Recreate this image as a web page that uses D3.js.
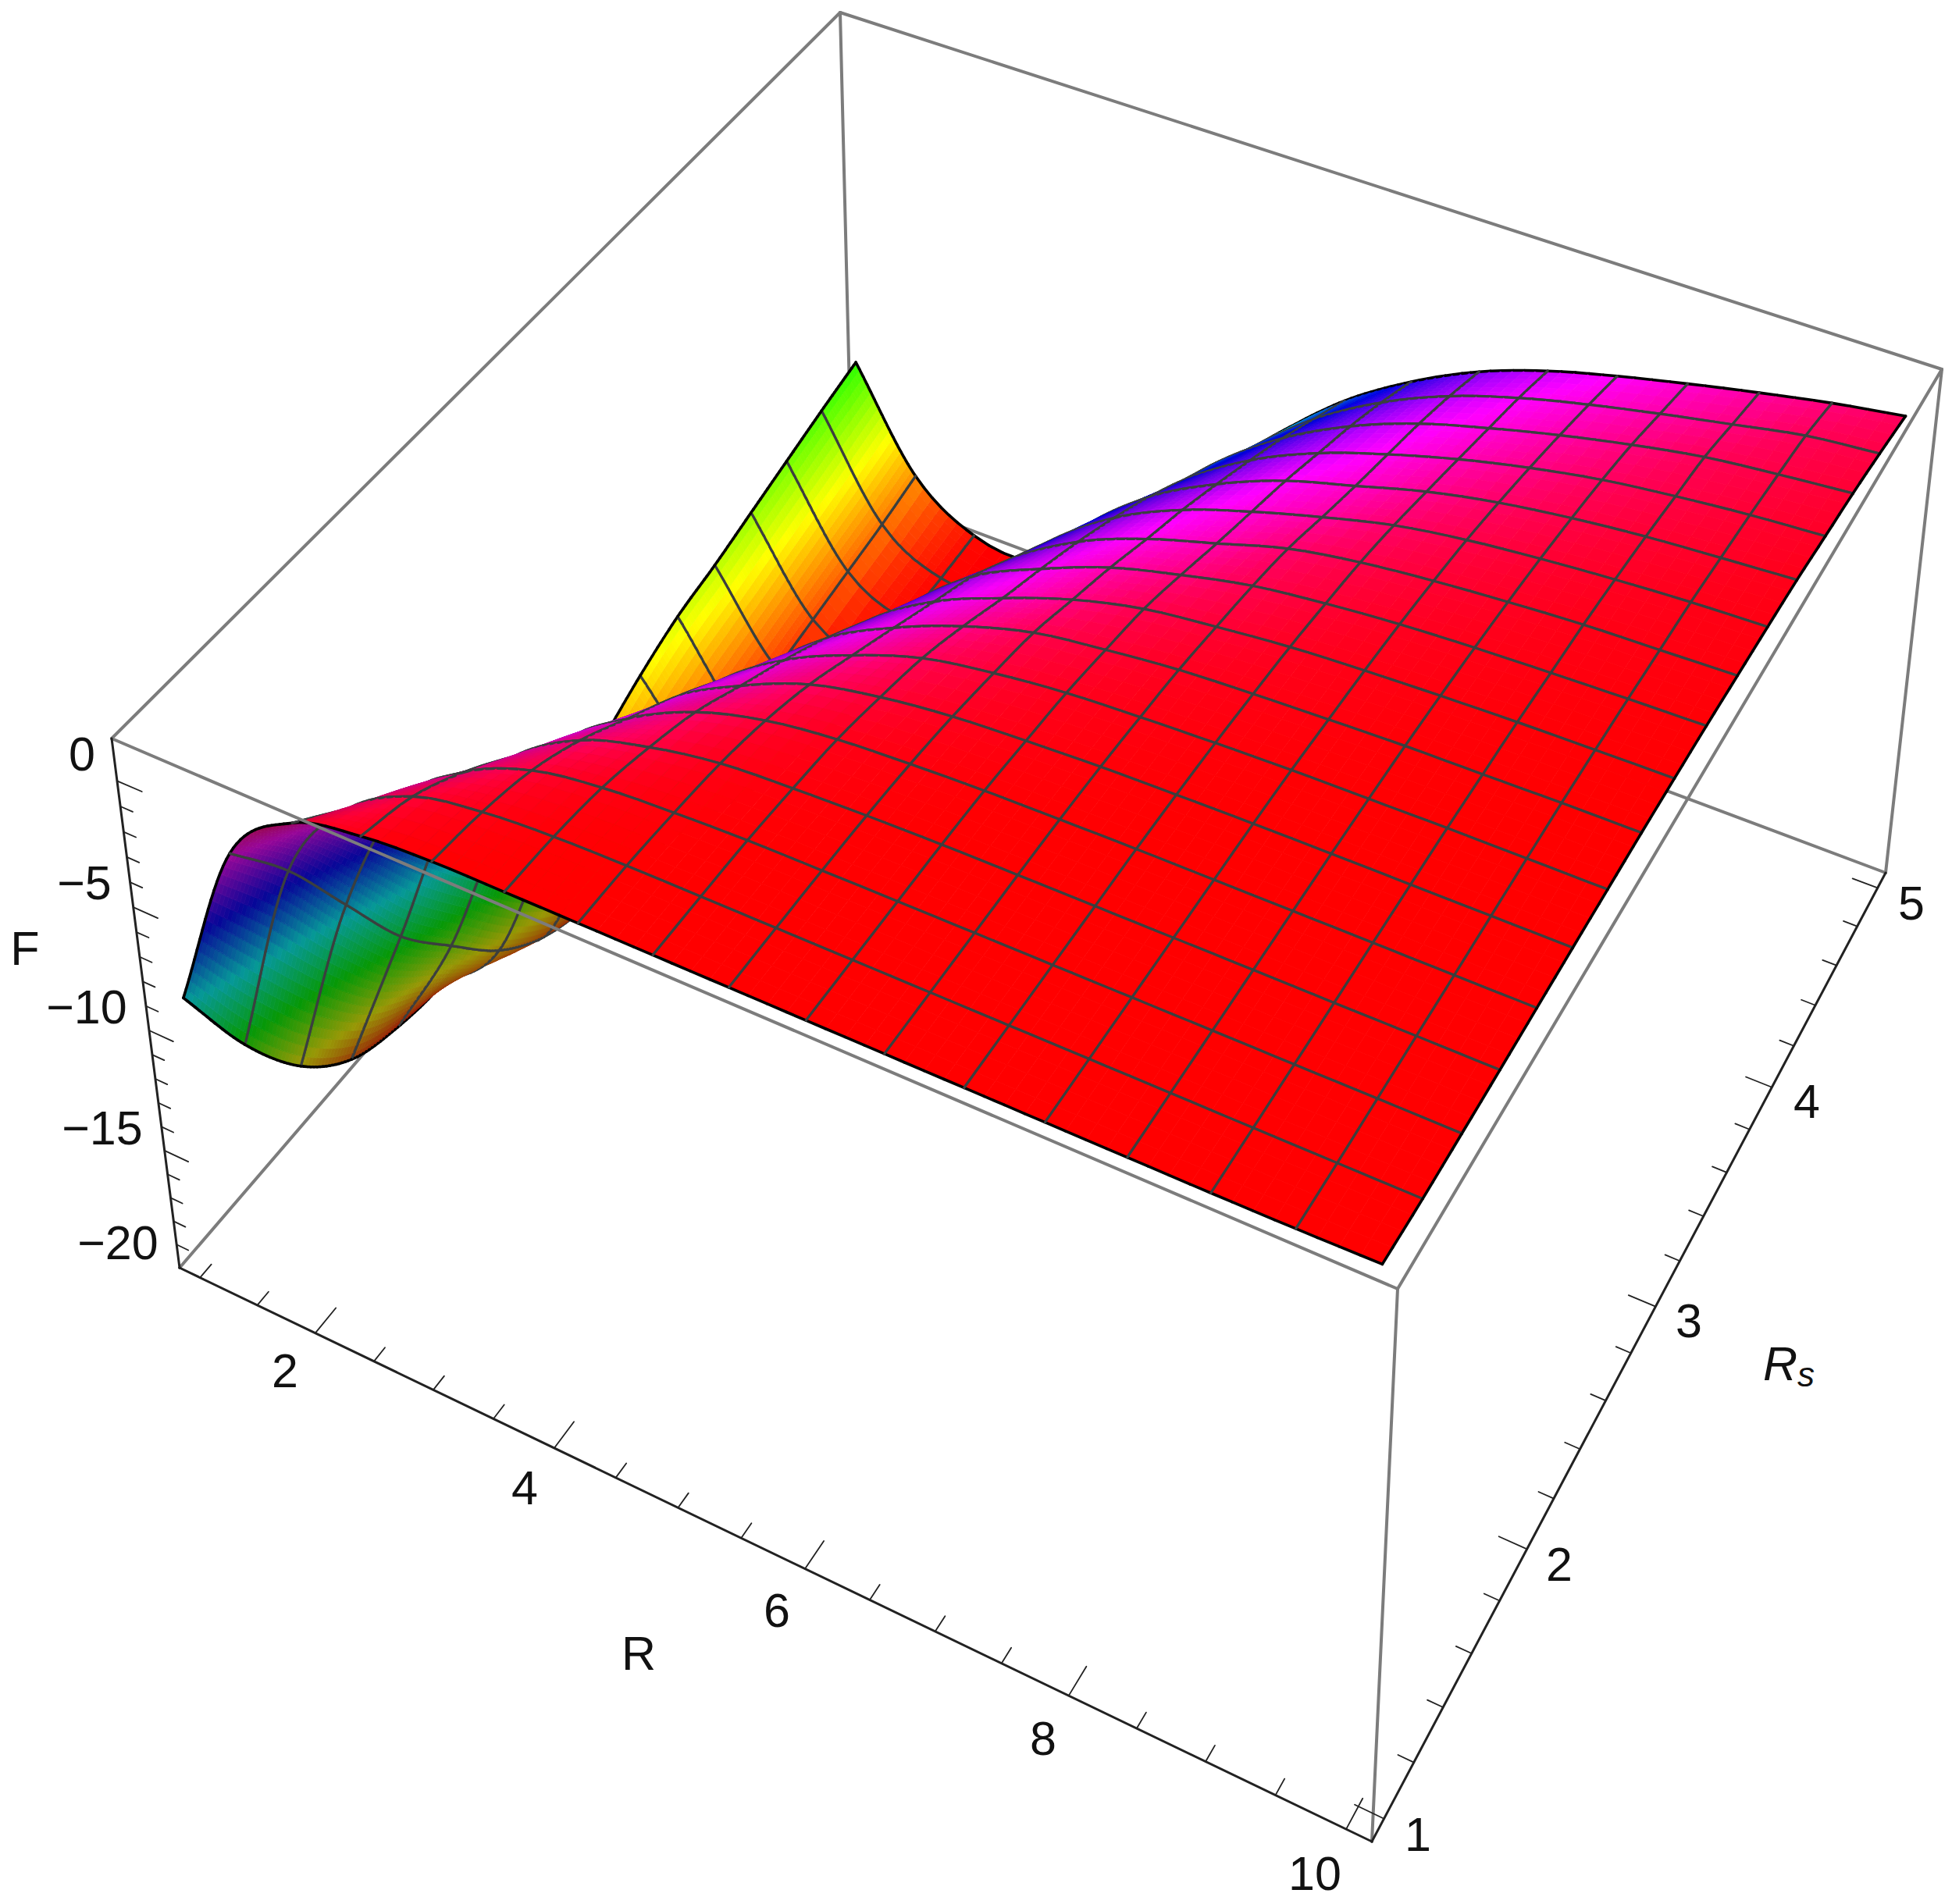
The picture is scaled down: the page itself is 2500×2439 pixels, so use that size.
<!DOCTYPE html>
<html><head><meta charset="utf-8">
<script src="https://cdn.jsdelivr.net/npm/d3@7"></script>
<style>html,body{margin:0;background:#fff}svg{display:block}text{font-family:"Liberation Sans",Arial,sans-serif;fill:#111}</style>
</head><body><div id="c"></div>
<script>
// ---------- data ----------
const rValues  = [1,1.5625,2.125,2.6875,3.25,3.8125,4.375,4.9375,5.5,6.0625,6.625,7.1875,7.75,8.3125,8.875,9.4375,10];
const rsValues = [1,1.25,1.5,1.75,2,2.25,2.5,2.75,3,3.25,3.5,3.75,4,4.25,4.5,4.75,5];
const F_Rs100 = [-9,-2.0,0.35,1.0,1.2,1.22,1.23,1.23,1.23,1.23,1.23,1.23,1.23,1.23,1.23,1.25,1.3];
const F_Rs125 = [-13.2,-4.85,-1.25,0.4,0.95,1.16,1.22,1.23,1.23,1.23,1.23,1.23,1.23,1.23,1.22,1.22,1.22];
const F_Rs150 = [-16.4,-8.4,-3.05,-0.75,0.45,0.92,1.1,1.2,1.22,1.23,1.23,1.23,1.23,1.23,1.22,1.22,1.21];
const F_Rs175 = [-18.4,-11.9,-5.3,-2.2,-0.45,0.4,0.9,1.07,1.17,1.22,1.23,1.23,1.23,1.23,1.22,1.22,1.21];
const F_Rs200 = [-19.25,-14.5,-8,-3.75,-1.65,-0.28,0.5,0.88,1.05,1.16,1.2,1.23,1.23,1.23,1.23,1.22,1.22];
const F_Rs225 = [-19.6,-16.9,-10.6,-5.6,-2.85,-1.27,-0.12,0.48,0.83,1.0,1.12,1.18,1.22,1.23,1.23,1.23,1.23];
const F_Rs250 = [-19.3,-18.5,-12.85,-7.2,-4.2,-2.25,-0.97,0,0.5,0.82,0.98,1.09,1.17,1.2,1.23,1.23,1.23];
const F_Rs275 = [-18.6,-19.3,-14.7,-9.85,-5.8,-3.35,-1.85,-0.72,0.1,0.5,0.8,0.95,1.06,1.15,1.18,1.22,1.23];
const F_Rs300 = [-18,-19.5,-16.5,-11.8,-7.55,-4.6,-2.75,-1.55,-0.55,0.14,0.5,0.78,0.94,1.05,1.13,1.17,1.2];
const F_Rs325 = [-17.2,-19.5,-17.9,-13.4,-9.3,-5.95,-3.65,-2.3,-1.2,-0.45,0.17,0.52,0.77,0.92,1.02,1.1,1.16];
const F_Rs350 = [-16.3,-19.4,-18.9,-14.9,-11,-7.4,-4.85,-3.1,-1.95,-1.1,-0.27,0.22,0.53,0.75,0.92,1.0,1.08];
const F_Rs375 = [-15.6,-19.2,-19.3,-16.2,-12.5,-8.95,-6.05,-4,-2.65,-1.7,-0.9,-0.2,0.24,0.53,0.75,0.91,1.0];
const F_Rs400 = [-15.2,-18.9,-19.55,-17.4,-13.7,-10.6,-7.3,-5,-3.45,-2.3,-1.5,-0.72,-0.15,0.25,0.54,0.73,0.9];
const F_Rs425 = [-14.7,-18.6,-19.6,-18.35,-14.9,-11.6,-8.7,-6.15,-4.3,-3,-2.05,-1.25,-0.6,-0.08,0.27,0.54,0.72];
const F_Rs450 = [-14.2,-18.3,-19.55,-19.05,-16.1,-12.9,-10,-7.25,-5.2,-3.7,-2.6,-1.8,-1.1,-0.5,0,0.3,0.55];
const F_Rs475 = [-13.7,-18,-19.5,-19.35,-17.1,-14,-11.2,-8.5,-6.2,-4.5,-3.25,-2.35,-1.65,-1.05,-0.5,0.03,0.3];
const F_Rs500 = [-13.25,-17.6,-19.4,-19.6,-18,-15,-12.3,-9.6,-7.2,-5.4,-4,-3,-2.25,-1.6,-1,-0.45,0];
const surface = [F_Rs100,F_Rs125,F_Rs150,F_Rs175,F_Rs200,F_Rs225,F_Rs250,F_Rs275,F_Rs300,F_Rs325,F_Rs350,F_Rs375,F_Rs400,F_Rs425,F_Rs450,F_Rs475,F_Rs500];

const rMajor = [2,4,6,8,10];
const rMinor = [1,1.5,2.5,3,3.5,4.5,5,5.5,6.5,7,7.5,8.5,9,9.5];
const rsMajor = [1,2,3,4,5];
const rsMinor = [1.2,1.4,1.6,1.8,2.2,2.4,2.6,2.8,3.2,3.4,3.6,3.8,4.2,4.4,4.6,4.8];
const fMajor = [0,-5,-10,-15,-20];
const fMinor = [-1,-2,-3,-4,-6,-7,-8,-9,-11,-12,-13,-14,-16,-17,-18,-19];
const rLabels  = [["2",365,1756],["4",672,1906],["6",995,2063],["8",1336,2227],["10",1684,2400]];
const rsLabels = [["1",1816,2350],["2",1997,2004],["3",2163,1692],["4",2314,1411],["5",2448,1157]];
const fLabels  = [["0",105,966],["\u22125",108,1131],["\u221210",111,1290],["\u221215",131,1445],["\u221220",151,1592]];

// ---------- scales and projection ----------
const W=2500,H=2439;
const uS=d3.scaleLinear().domain([0.82,10.18]).range([0,1]);
const vS=d3.scaleLinear().domain([0.92,5.08]).range([0,1]);
const fTop=1.65,fBot=-20;
const tS=d3.scaleLinear().domain([fTop,fBot]).range([0,1]);
const fMin=-19.6,fMax=1.23;
const hueS=d3.scaleLinear().domain([fMin,fMax]).range([0,360]).clamp(true);

function quadMap(q){
  const [x0,y0]=q[0],[x1,y1]=q[1],[x2,y2]=q[2],[x3,y3]=q[3];
  const dx1=x1-x2,dx2=x3-x2,sx=x0-x1+x2-x3,dy1=y1-y2,dy2=y3-y2,sy=y0-y1+y2-y3;
  const den=dx1*dy2-dx2*dy1,g=(sx*dy2-dx2*sy)/den,h=(dx1*sy-sx*dy1)/den;
  const a=x1-x0+g*x1,b=x3-x0+h*x3,d=y1-y0+g*y1,e=y3-y0+h*y3;
  return (u,v)=>{const w=g*u+h*v+1;return [(a*u+b*v+x0)/w,(d*u+e*v+y0)/w];};
}
const topMap=quadMap([[143,946],[1790,1651],[2487,473],[1076,16]]);
const botMap=quadMap([[230,1624],[1757,2359],[2415,1118],[1091,622]]);
const K=1.056;
function project(r,rs,f){
  const u=uS(r),v=vS(rs),t=tS(f),s=t*K/(1-t+t*K);
  const a=topMap(u,v),b=botMap(u,v);
  return [a[0]+(b[0]-a[0])*s,a[1]+(b[1]-a[1])*s];
}
const depth=(r,rs,f)=>0.71*uS(r)-1.06*vS(rs)+2.19*(1-tS(f));

const svg=d3.select("#c").append("svg").attr("width",W).attr("height",H).attr("viewBox",[0,0,W,H]);
const line=d3.line();
const GRAY="#7c7c7c";
function seg(g,p,q,col,w){g.append("path").attr("d",line([project(...p),project(...q)])).attr("fill","none").attr("stroke",col).attr("stroke-width",w).attr("stroke-linecap","round");}
const [rLo,rHi]=uS.domain(),[sLo,sHi]=vS.domain();

// back box edges (behind surface)
const back=svg.append("g");
seg(back,[rLo,sLo,fTop],[rLo,sHi,fTop],GRAY,4);
seg(back,[rLo,sHi,fTop],[rHi,sHi,fTop],GRAY,4);
seg(back,[rLo,sHi,fTop],[rLo,sHi,fBot],GRAY,4);
seg(back,[rLo,sLo,fBot],[rLo,sHi,fBot],GRAY,4);
seg(back,[rLo,sHi,fBot],[rHi,sHi,fBot],GRAY,4);

// surface: the table is read as a smooth sheet between its values
const items=[];
const nR=rValues.length,nS=rsValues.length;
const MESH="#3b3f3f",EDGE="#000";
function cr(p0,p1,p2,p3,t){return 0.5*(2*p1+(p2-p0)*t+(2*p0-5*p1+4*p2-p3)*t*t+(3*p1-p0-3*p2+p3)*t*t*t);}
function at(i,j){
  const ci=Math.max(0,Math.min(nR-1,i)),cj=Math.max(0,Math.min(nS-1,j));
  let v=surface[cj][ci];
  if(i<0)v+=surface[cj][0]-surface[cj][1]; else if(i>nR-1)v+=surface[cj][nR-1]-surface[cj][nR-2];
  if(j<0)v+=surface[0][ci]-surface[1][ci]; else if(j>nS-1)v+=surface[nS-1][ci]-surface[nS-2][ci];
  return v;
}
function P(i,j,ta,tb){
  const r=rValues[i]+(rValues[i+1]-rValues[i])*ta;
  const s=rsValues[j]+(rsValues[j+1]-rsValues[j])*tb;
  const col=[-1,0,1,2].map(d=>cr(at(i-1,j+d),at(i,j+d),at(i+1,j+d),at(i+2,j+d),ta));
  const f=cr(col[0],col[1],col[2],col[3],tb);
  return {r,s,f,xy:project(r,s,f)};
}
for(let j=0;j<nS-1;j++)for(let i=0;i<nR-1;i++){
  const vals=[surface[j][i],surface[j][i+1],surface[j+1][i],surface[j+1][i+1]];
  const SUB=Math.max(4,Math.min(16,Math.ceil((d3.max(vals)-d3.min(vals))/0.3)));
  const grid=d3.range(SUB+1).map(b=>d3.range(SUB+1).map(a=>P(i,j,a/SUB,b/SUB)));
  for(let b=0;b<SUB;b++)for(let a=0;a<SUB;a++){
    const A=grid[b][a],B=grid[b][a+1],C=grid[b+1][a+1],D=grid[b+1][a];
    const poly=[A.xy,B.xy,C.xy,D.xy];
    const area=d3.polygonArea(poly);
    const base=d3.polygonArea([project(A.r,A.s,0),project(B.r,B.s,0),project(C.r,C.s,0),project(D.r,D.s,0)]);
    const ratio=Math.abs(area/base);
    const fc=(A.f+B.f+C.f+D.f)/4,rc=(A.r+C.r)/2,sc=(A.s+C.s)/2;
    const top=area*base>0;
    const shade=top?0.78+0.22*Math.min(1,ratio/0.5):0.62;
    const col=d3.hsl(hueS(fc),top?1:0.92,0.5*shade).formatHex();
    const it={z:depth(rc,sc,fc),parts:[{d:line(poly)+"Z",fill:col,stroke:col,sw:0.8}]};
    const mk=(p,q,c,w)=>it.parts.push({d:line([p.xy,q.xy]),fill:"none",stroke:c,sw:w});
    if(b===0)mk(A,B,j===0?EDGE:MESH,j===0?3.6:3.2);
    if(b===SUB-1)mk(D,C,j===nS-2?EDGE:MESH,j===nS-2?3.6:3.2);
    if(a===0)mk(A,D,i===0?EDGE:MESH,i===0?3.6:3.2);
    if(a===SUB-1)mk(B,C,i===nR-2?EDGE:MESH,i===nR-2?3.6:3.2);
    items.push(it);
  }
}
items.sort((p,q)=>d3.ascending(p.z,q.z));
svg.append("g").selectAll("path").data(items.flatMap(d=>d.parts)).join("path")
  .attr("d",d=>d.d).attr("fill",d=>d.fill).attr("stroke",d=>d.stroke).attr("stroke-width",d=>d.sw).attr("stroke-linecap","round").attr("stroke-linejoin","round");

// front box edges
const front=svg.append("g");
seg(front,[rLo,sLo,fTop],[rHi,sLo,fTop],GRAY,4);
seg(front,[rHi,sLo,fTop],[rHi,sHi,fTop],GRAY,4);
seg(front,[rHi,sLo,fTop],[rHi,sLo,fBot],GRAY,4);
seg(front,[rHi,sHi,fTop],[rHi,sHi,fBot],GRAY,4);

// axes
const ax=svg.append("g"),AX="#222";
seg(ax,[rLo,sLo,fTop],[rLo,sLo,fBot],AX,3);
seg(ax,[rLo,sLo,fBot],[rHi,sLo,fBot],AX,3);
seg(ax,[rHi,sLo,fBot],[rHi,sHi,fBot],AX,3);
const dS=sHi-sLo,dR=rHi-rLo;
rMajor.forEach(r=>seg(ax,[r,sLo,fBot],[r,sLo+0.026*dS,fBot],AX,1.8));
rMinor.forEach(r=>seg(ax,[r,sLo,fBot],[r,sLo+0.014*dS,fBot],AX,1.8));
rsMajor.forEach(s=>seg(ax,[rHi,s,fBot],[rHi-0.022*dR,s,fBot],AX,1.8));
rsMinor.forEach(s=>seg(ax,[rHi,s,fBot],[rHi-0.012*dR,s,fBot],AX,1.8));
fMajor.forEach(f=>seg(ax,[rLo,sLo,f],[rLo+0.022*dR,sLo,f],AX,1.8));
fMinor.forEach(f=>seg(ax,[rLo,sLo,f],[rLo+0.011*dR,sLo,f],AX,1.8));

// text
const FS=61;
const lab=(t,x,y)=>svg.append("text").attr("x",x).attr("y",y).attr("text-anchor","middle").attr("dominant-baseline","central").attr("font-size",FS).text(t);
[...rLabels,...rsLabels,...fLabels].forEach(d=>lab(d[0],d[1],d[2]));
lab("R",818,2118);
lab("F",32,1215);
const rs=svg.append("text").attr("x",2291).attr("y",1747).attr("text-anchor","middle").attr("dominant-baseline","central").attr("font-size",FS).attr("font-style","italic");
rs.append("tspan").text("R");
rs.append("tspan").attr("font-size",44).attr("dy",13).text("s");
</script>
</body></html>
